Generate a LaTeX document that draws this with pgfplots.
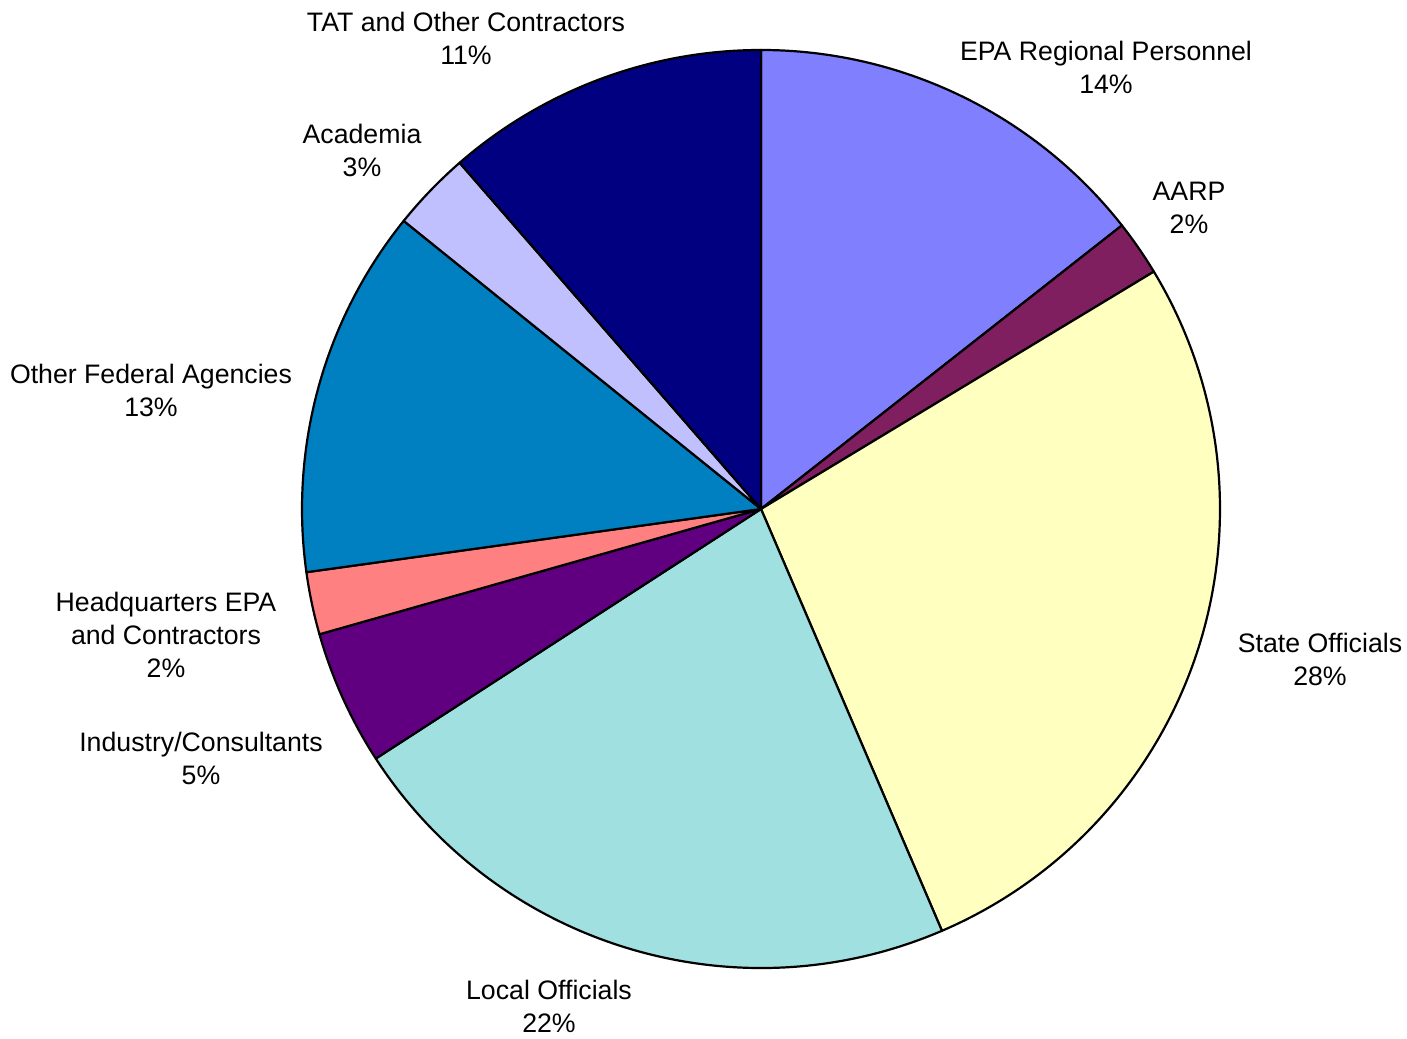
\documentclass[border=0pt]{standalone}
\usepackage{pgfplots}
\usepackage{pgfplotstable}
\usepackage{fontspec}
\setmainfont{Liberation Sans}
\pgfplotsset{compat=1.18}

\definecolor{cEPA}{HTML}{8080FF}
\definecolor{cAARP}{HTML}{7F1F5F}
\definecolor{cState}{HTML}{FFFFC0}
\definecolor{cLocal}{HTML}{A0E0E0}
\definecolor{cInd}{HTML}{600080}
\definecolor{cHQ}{HTML}{FF8080}
\definecolor{cFed}{HTML}{0080C0}
\definecolor{cAcad}{HTML}{C0C0FF}
\definecolor{cTAT}{HTML}{000080}

% shares in percent, clockwise from 12 o'clock
\pgfplotstableread{
share col
14.4 cEPA
1.95 cAARP
27.2 cState
22.3 cLocal
4.75 cInd
2.2 cHQ
13.0 cFed
2.8 cAcad
11.4 cTAT
}\piedata

\begin{document}
\begin{tikzpicture}
\begin{axis}[
    width=1407pt, height=1038pt, scale only axis,
    xmin=0, xmax=1407, ymin=0, ymax=1038,
    hide axis, clip=false,
  ]
  \addplot[draw=none] coordinates {(0,0) (1407,1038)};

  % wedges: start angle from the sum of the preceding shares
  \foreach \i in {0,...,8}{
    \pgfplotstablegetelem{\i}{share}\of\piedata
    \pgfmathsetmacro{\v}{\pgfplotsretval}
    \pgfplotstablegetelem{\i}{col}\of\piedata
    \edef\c{\pgfplotsretval}
    \gdef\pre{0}
    \ifnum\i>0
      \pgfmathtruncatemacro{\last}{\i-1}
      \foreach \k in {0,...,\last}{
        \pgfplotstablegetelem{\k}{share}\of\piedata
        \pgfmathsetmacro{\tmp}{\pre+\pgfplotsretval}
        \global\let\pre\tmp
      }
    \fi
    \pgfmathsetmacro{\sa}{90-3.6*\pre}
    \pgfmathsetmacro{\ea}{90-3.6*(\pre+\v)}
    \edef\wedge{\noexpand\filldraw[fill=\c, draw=black, line width=2.2pt, line join=round]
      (axis cs:761,529) -- ++(\sa:459pt) arc[start angle=\sa, end angle=\ea, radius=459pt] -- cycle;}
    \wedge
  }

  \tikzset{lab/.style={font=\fontsize{26.7}{33}\selectfont, align=center, inner sep=0pt}}
  \node[lab] at (axis cs:466,1000) {TAT and Other Contractors\\11\%};
  \node[lab] at (axis cs:1106,971) {EPA Regional Personnel\\14\%};
  \node[lab] at (axis cs:1189,830) {AARP\\2\%};
  \node[lab] at (axis cs:362,888) {Academia\\3\%};
  \node[lab] at (axis cs:151,648) {Other Federal Agencies\\13\%};
  \node[lab] at (axis cs:1320,379) {State Officials\\28\%};
  \node[lab] at (axis cs:166,403) {Headquarters EPA\\and Contractors\\2\%};
  \node[lab] at (axis cs:201,280) {Industry/Consultants\\5\%};
  \node[lab] at (axis cs:549,32) {Local Officials\\22\%};
\end{axis}
\end{tikzpicture}
\end{document}
